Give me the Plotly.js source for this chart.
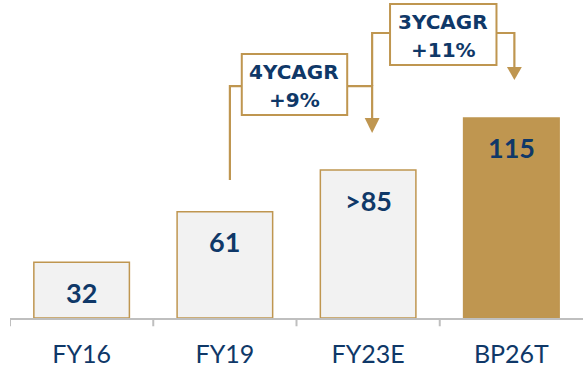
<!DOCTYPE html>
<html><head><meta charset="utf-8">
<script src="https://cdn.plot.ly/plotly-3.0.1.min.js"></script>
<style>html,body{margin:0;padding:0;background:#fff}#c{width:583px;height:368px}</style>
</head><body><div id="c"></div>
<script>
var categories = ["FY16", "FY19", "FY23E", "BP26T"];
var values = [32, 61, 85, 115];
var valueLabels = ["32", "61", ">85", "115"];
var cagrPeriods = ["4YCAGR", "3YCAGR"];
var cagrRates = ["+9%", "+11%"];

var gold = "#BF9650";
var navy = "#0F3868";
var fills = ["#F2F2F2", "#F2F2F2", "#F2F2F2", gold];

var trace = {
  type: "bar",
  x: [0, 1, 2, 3],
  y: values,
  width: 0.667,
  marker: {color: fills, line: {color: gold, width: 1.5}},
  hoverinfo: "skip"
};

var annotations = values.map(function (v, i) {
  return {
    x: i, y: v, xref: "x", yref: "y", yanchor: "middle", yshift: -30,
    text: "<b>" + valueLabels[i] + "</b>", showarrow: false,
    font: {family: "Lato, sans-serif", size: 27, color: navy}
  };
});

// CAGR boxes (data coords)
var boxes = [
  {x0: 1.118, x1: 1.854, y0: 116.7, y1: 151.7},
  {x0: 2.153, x1: 2.896, y0: 145.4, y1: 180.5}
];
var shapes = [];
var lw = 2.2;
shapes.push({type: "path", xref: "x", yref: "y", layer: "above",
  path: "M 1.035 79.3 L 1.035 133.3 L 1.118 133.3", line: {color: gold, width: lw}});
shapes.push({type: "path", xref: "x", yref: "y", layer: "above",
  path: "M 1.854 133.3 L 2.028 133.3 L 2.028 114.9", line: {color: gold, width: lw}});
shapes.push({type: "path", xref: "x", yref: "y", layer: "above",
  path: "M 1.976 114.9 L 2.080 114.9 L 2.028 106.3 Z", fillcolor: gold, line: {color: gold, width: 0}});
shapes.push({type: "path", xref: "x", yref: "y", layer: "above",
  path: "M 2.028 133.3 L 2.028 163.8 L 2.153 163.8", line: {color: gold, width: lw}});
shapes.push({type: "path", xref: "x", yref: "y", layer: "above",
  path: "M 2.896 163.8 L 3.021 163.8 L 3.021 144.3", line: {color: gold, width: lw}});
shapes.push({type: "path", xref: "x", yref: "y", layer: "above",
  path: "M 2.969 144.3 L 3.073 144.3 L 3.021 136.8 Z", fillcolor: gold, line: {color: gold, width: 0}});
boxes.forEach(function (b, i) {
  shapes.push({type: "rect", xref: "x", yref: "y", layer: "above",
    x0: b.x0, x1: b.x1, y0: b.y0, y1: b.y1, fillcolor: "#FFFFFF",
    line: {color: gold, width: 2}});
  var cx = (b.x0 + b.x1) / 2, cy = (b.y0 + b.y1) / 2;
  annotations.push({x: cx, y: cy, xref: "x", yref: "y", yanchor: "middle", yshift: 12,
    text: "<b>" + cagrPeriods[i] + "</b>", showarrow: false,
    font: {family: "DejaVu Sans, sans-serif", size: 20, color: navy}});
  annotations.push({x: cx, y: cy, xref: "x", yref: "y", yanchor: "middle", yshift: -16,
    text: "<b>" + cagrRates[i] + "</b>", showarrow: false,
    font: {family: "DejaVu Sans, sans-serif", size: 20, color: navy}});
});

var layout = {
  width: 583, height: 368,
  margin: {l: 10, r: 0, t: 0, b: 50, pad: 0},
  paper_bgcolor: "#FFFFFF", plot_bgcolor: "#FFFFFF",
  showlegend: false,
  xaxis: {
    range: [-0.5, 3.5], tickmode: "array", tickvals: [0, 1, 2, 3], ticktext: categories,
    showgrid: false, zeroline: false, showline: true, linecolor: "#BFBFBF", linewidth: 2,
    ticks: "", tickfont: {family: "Lato, sans-serif", size: 25, color: navy},
    ticklabelstandoff: 13
  },
  yaxis: {range: [0, 182.76], visible: false, fixedrange: true},
  annotations: annotations,
  shapes: shapes.concat([-0.5, 0.5, 1.5, 2.5].map(function (t) {
    return {type: "line", xref: "x", yref: "paper", x0: t, x1: t, y0: 0, y1: -0.026,
      line: {color: "#BFBFBF", width: 2}};
  }))
};

Plotly.newPlot("c", [trace], layout, {displayModeBar: false, staticPlot: true});
</script></body></html>
